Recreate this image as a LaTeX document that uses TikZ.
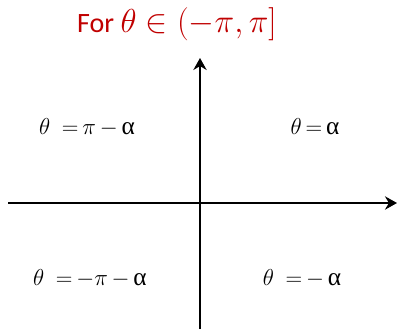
\documentclass[tikz,border=0pt]{standalone}
\usepackage{fontspec}
\newfontfamily\carlito{Carlito}
\newfontfamily\grk{Liberation Serif}
\usetikzlibrary{arrows.meta}
\definecolor{titlered}{RGB}{192,0,0}
\newcommand{\ualpha}{\mbox{\grk α}}
\newcommand{\quadfont}{\fontsize{19}{22}\selectfont\medmuskip=3mu\relax\thickmuskip=3mu\relax}

\begin{document}
\begin{tikzpicture}[
    x=0.75pt, y=-0.75pt,
    >={Stealth[length=9pt,width=10pt]},
    axis/.style={->, line width=1.9pt},
    quad/.style={font=\quadfont, inner sep=0pt},
]
\useasboundingbox (0,0) rectangle (399,329);

% Title
\node[font=\fontsize{21}{24}\selectfont, text=titlered, inner sep=0pt] (title) at (177,24)
    {\carlito For {\fontsize{23}{26}\selectfont$\theta\in(-\pi,\pi]$}};

% Axes
\coordinate (xleft) at (8,203);
\coordinate (xright) at (397,203);
\coordinate (ybottom) at (200,329);
\coordinate (ytop) at (200,58);
\draw[axis] (xleft) -- (xright);
\draw[axis] (ybottom) -- (ytop);

% Quadrant labels
\node[quad] (q2) at (87,127) {$\theta\;\,=\pi-\ualpha$};
\node[quad] (q1) at (315,127) {$\theta=\ualpha$};
\node[quad] (q3) at (90,278) {$\theta\;\,=-\pi-\ualpha$};
\node[quad] (q4) at (302,278) {$\theta\;\,=-\,\ualpha$};

\end{tikzpicture}
\end{document}
